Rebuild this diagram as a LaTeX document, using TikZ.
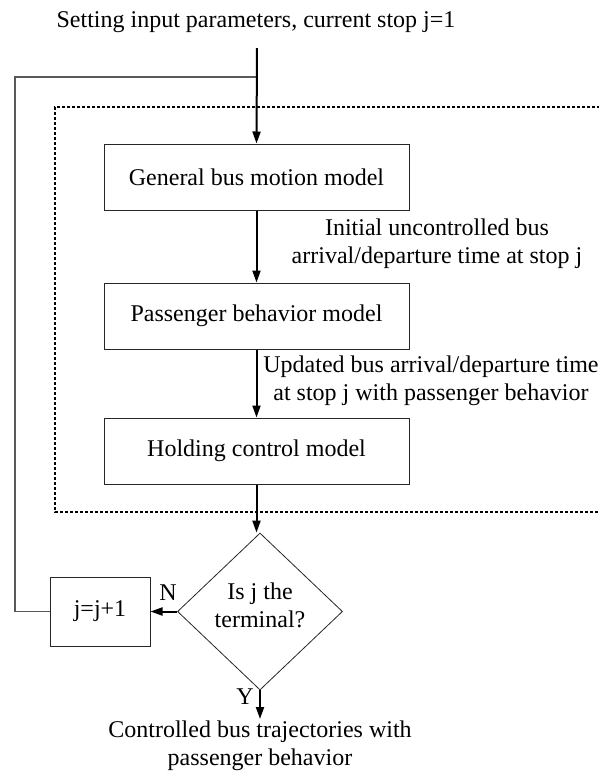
\documentclass[tikz,border=0pt]{standalone}
\usepackage{fontspec}
\setmainfont{Liberation Serif}
\usetikzlibrary{arrows.meta,shapes.geometric}
\begin{document}
\begin{tikzpicture}[x=1pt,y=-1pt,
  every node/.style={font=\fontsize{24}{28}\selectfont},
  box/.style={draw=black!85,line width=1pt,minimum width=305pt,minimum height=66pt,inner sep=0pt},
  jbox/.style={draw=black!85,line width=1pt,minimum width=100pt,minimum height=69pt,inner sep=0pt},
  decision/.style={draw=black!85,line width=0.8pt,shape=diamond,minimum width=165pt,minimum height=157pt,inner sep=0pt},
  flow/.style={line width=2pt,-{Triangle[length=12pt,width=8pt]}},
  feedback/.style={draw=black!65,line width=1.6pt},
  frame/.style={line width=1.5pt,dash pattern=on 3pt off 2pt},
  lbl/.style={align=center,inner sep=0pt}]
\useasboundingbox (0,0) rectangle (598,772);
\node[lbl] (title) at (256,22) {Setting input parameters, current stop j=1};
\coordinate (start) at (257,48);
\coordinate (fb) at (257,77);
\draw[frame] (640,107) -- (55,107) -- (55,512) -- (640,512);
\node[box] (gen) at (256.5,177) {General bus motion model};
\node[box] (pas) at (256.5,316) {Passenger behavior model};
\node[box] (hold) at (256.5,451) {Holding control model};
\node[decision] (dec) at (260,611.5) {};
\node[lbl] (dtext) at (260,605.5) {Is j the\\terminal?};
\node[jbox] (inc) at (100,611.5) {j=j+1};
\node[lbl] (l1) at (437,244) {Initial uncontrolled bus\\arrival/departure time at stop j};
\node[lbl] (l2) at (431,381) {Updated bus arrival/departure time\\at stop j with passenger behavior};
\node[lbl] (nl) at (168,593) {N};
\node[lbl] (yl) at (245,697) {Y};
\coordinate (endp) at (260,719);
\node[lbl,anchor=north] (out) at (260,721) {Controlled bus trajectories with\\passenger behavior};
\draw[feedback] (inc.west) -- (15,611.5) |- (fb);
\draw[flow] (start) -- (gen.north);
\draw[flow] (gen.south) -- (pas.north);
\draw[flow] (pas.south) -- (hold.north);
\draw[flow] (hold.south) -- (hold.south |- dec.north);
\draw[flow] (dec.west) -- (inc.east);
\draw[flow] (dec.south) -- (endp);
\end{tikzpicture}
\end{document}
